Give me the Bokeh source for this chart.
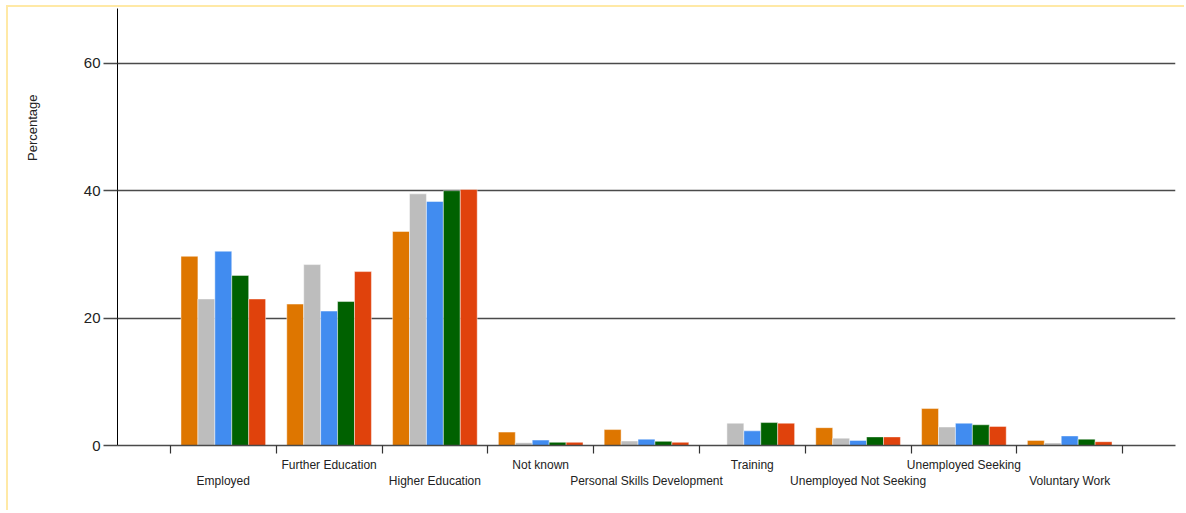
from bokeh.plotting import figure
from bokeh.models import ColumnDataSource, FixedTicker, Range1d, Title
from bokeh.transform import dodge
from bokeh.embed import file_html
from bokeh.resources import INLINE

categories = ["Employed", "Further Education", "Higher Education", "Not known",
              "Personal Skills Development", "Training", "Unemployed Not Seeking",
              "Unemployed Seeking", "Voluntary Work"]
series_names = ["Series 1", "Series 2", "Series 3", "Series 4", "Series 5"]
series_1 = [29.7, 22.2, 33.6, 2.1, 2.5, 0.0, 2.8, 5.8, 0.8]
series_2 = [23.0, 28.4, 39.5, 0.45, 0.7, 3.5, 1.15, 2.9, 0.4]
series_3 = [30.5, 21.1, 38.3, 0.85, 1.0, 2.3, 0.8, 3.5, 1.5]
series_4 = [26.7, 22.6, 40.0, 0.5, 0.65, 3.6, 1.35, 3.25, 1.0]
series_5 = [23.0, 27.3, 40.2, 0.5, 0.5, 3.5, 1.35, 3.0, 0.6]
colors = ["#DE7600", "#BDBDBD", "#418CF0", "#006100", "#E0420C"]
y_ticks = [0, 20, 40, 60]

positions = list(range(1, len(categories) + 1))
src = ColumnDataSource(dict(x=positions, s1=series_1, s2=series_2, s3=series_3,
                            s4=series_4, s5=series_5))

p = figure(width=1178, height=505, output_backend="svg", toolbar_location=None,
           x_range=Range1d(0, len(categories) + 1),
           y_range=Range1d(0, 68.6),
           min_border_left=109, min_border_right=11, min_border_top=1,
           min_border_bottom=67)

bw = 0.16
cols = ["s1", "s2", "s3", "s4", "s5"]
for i, (c, col) in enumerate(zip(cols, colors)):
    off = (i - 2) * bw
    p.vbar(x=dodge("x", off, range=p.x_range), top=c, width=bw, source=src,
           fill_color=col, line_color="white", line_alpha=0.45, line_width=1)

p.outline_line_color = None
p.background_fill_color = "white"
p.border_fill_color = "white"

# grid
p.xgrid.grid_line_color = None
p.ygrid.ticker = FixedTicker(ticks=y_ticks)
p.ygrid.grid_line_color = "#4a4a4a"
p.ygrid.grid_line_width = 1.4

# y axis
yax = p.yaxis[0]
yax.ticker = FixedTicker(ticks=y_ticks)
yax.axis_line_color = "black"
yax.axis_line_width = 1
yax.major_tick_out = 14
yax.major_tick_in = 0
yax.major_tick_line_color = "#4a4a4a"
yax.major_tick_line_width = 1.4
yax.minor_tick_line_color = None
yax.major_label_standoff = 3
yax.major_label_text_font = "Liberation Sans"
yax.major_label_text_font_size = "15px"
yax.major_label_text_color = "#222222"
yax.axis_label = None

# x axis: labels at centers, boundary ticks as minor ticks
xax = p.xaxis[0]
xax.ticker = FixedTicker(ticks=positions,
                         minor_ticks=[k + 0.5 for k in range(0, len(categories) + 1)])
overrides = {}
for k, name in enumerate(categories):
    overrides[positions[k]] = name if k % 2 == 1 else "\n" + name
xax.major_label_overrides = overrides
xax.major_tick_out = 0
xax.major_tick_in = 0
xax.minor_tick_out = 8
xax.minor_tick_in = 0
xax.minor_tick_line_color = "#333333"
xax.minor_tick_line_width = 1.2
xax.axis_line_color = "#4a4a4a"
xax.axis_line_width = 1.5
xax.major_label_standoff = 4
xax.major_label_text_font = "Liberation Sans"
xax.major_label_text_font_size = "12px"
xax.major_label_text_color = "#222222"
xax.major_label_text_line_height = 1.15

spacer = Title(text=" ", standoff=24, text_font_size="13px")
p.add_layout(spacer, "left")
ttl = Title(text="Percentage", align="right", offset=86, standoff=0,
            text_font="Liberation Sans", text_font_size="13px",
            text_font_style="normal", text_color="#222222")
p.add_layout(ttl, "left")

p.styles = {"border-top": "2px solid #FFE9A6", "border-left": "2px solid #FFE9A6",
            "margin-left": "6px", "margin-top": "5px"}

open("out.html", "w").write(file_html(p, INLINE))
